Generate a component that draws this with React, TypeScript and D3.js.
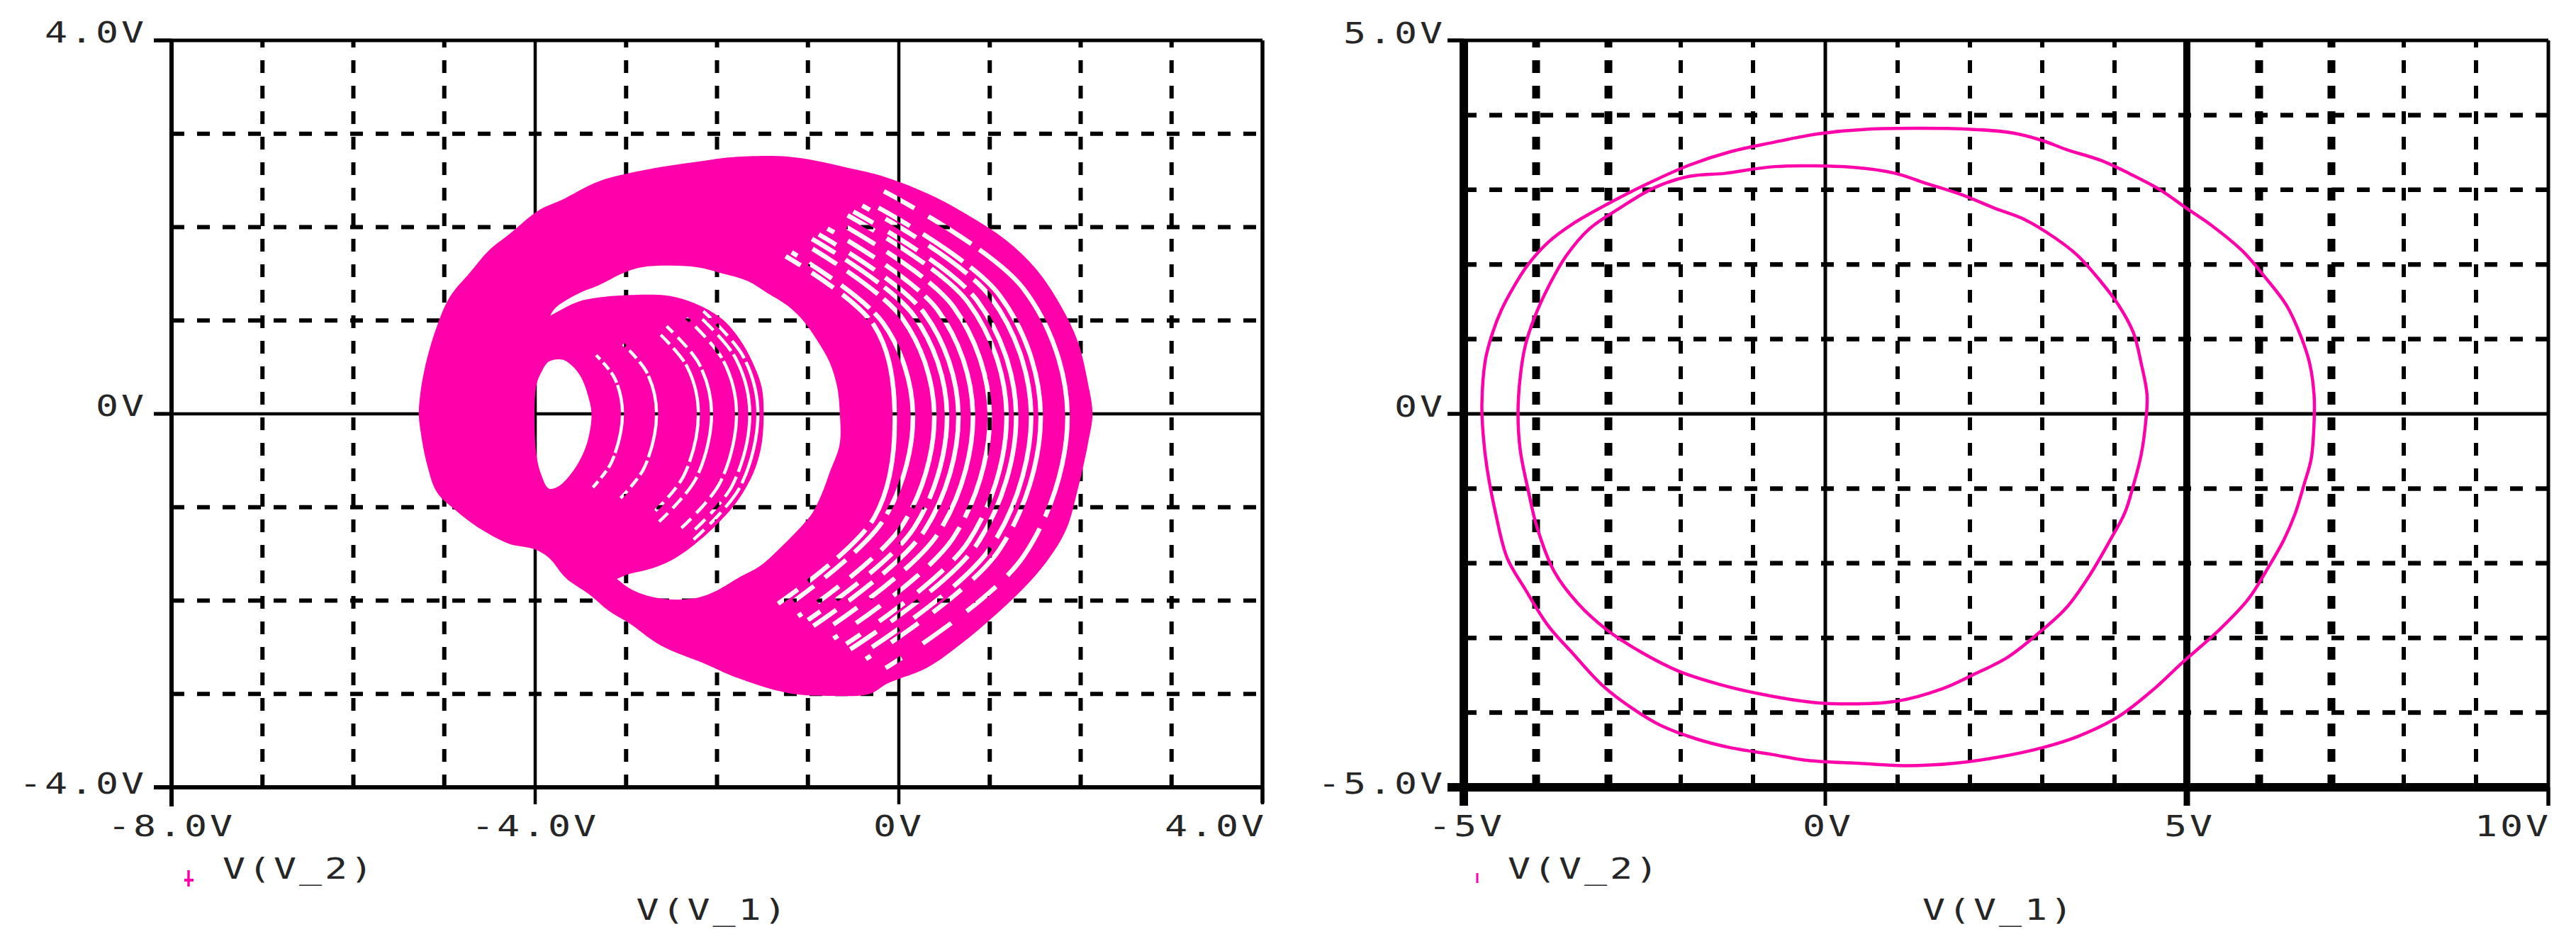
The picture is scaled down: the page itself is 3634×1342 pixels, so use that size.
import React from 'react';
import * as d3 from 'd3';

type Pt = [number, number];

const PINK = '#ff00aa';
const INK = '#000000';
const TEXT = '#262626';

// ---------------- Left chart (V(V_2) vs V(V_1), chaotic attractor) ----------------
const leftXMajor = [-8, -4, 0, 4];
const leftXMajorLabels = ['-8.0V', '-4.0V', '0V', '4.0V'];
const leftYMajor = [-4, 0, 4];
const leftYMajorLabels = ['-4.0V', '0V', '4.0V'];
const leftXMinor = [-7, -6, -5, -3, -2, -1, 1, 2, 3];
const leftYMinor = [-3, -2, -1, 1, 2, 3];
const leftLegend = 'V(V_2)';
const leftXTitle = 'V(V_1)';

// outer envelope of the trajectory
const attractorOuter: Pt[] = [
  [-5.28, 0.0], [-5.26, 0.24], [-5.19, 0.59], [-5.08, 0.94], [-4.94, 1.25], [-4.72, 1.51],
  [-4.51, 1.75], [-4.29, 1.92], [-3.96, 2.18], [-3.71, 2.29], [-3.3, 2.49], [-2.75, 2.62],
  [-2.15, 2.71], [-1.82, 2.75], [-1.17, 2.75], [-0.49, 2.62], [-0.13, 2.53], [0.36, 2.34],
  [0.74, 2.14], [1.18, 1.86], [1.51, 1.55], [1.78, 1.16], [1.97, 0.77], [2.08, 0.33],
  [2.13, 0.0], [2.08, -0.32], [1.97, -0.8], [1.84, -1.24], [1.62, -1.59], [1.35, -1.89],
  [1.02, -2.19], [0.69, -2.46], [0.31, -2.72], [-0.13, -2.89], [-0.32, -3.0], [-0.78, -3.02],
  [-1.22, -2.99], [-1.77, -2.83], [-2.15, -2.67], [-2.62, -2.48], [-2.97, -2.24], [-3.19, -2.11],
  [-3.41, -1.93], [-3.66, -1.76], [-3.85, -1.54], [-4.01, -1.45], [-4.29, -1.39], [-4.59, -1.24],
  [-4.89, -1.02], [-5.08, -0.84], [-5.19, -0.54], [-5.26, -0.19],
];

// large empty region inside the big loops
const attractorBigHole: Pt[] = [
  [-3.795, 1.115], [-3.52, 1.29], [-3.3, 1.377], [-3.03, 1.508], [-2.81, 1.573], [-2.24, 1.573],
  [-1.96, 1.508], [-1.66, 1.421], [-1.44, 1.29], [-1.225, 1.159], [-1.06, 1.007], [-0.9, 0.789],
  [-0.76, 0.549], [-0.678, 0.288], [-0.65, 0.02], [-0.65, -0.322], [-0.76, -0.627], [-0.842, -0.845],
  [-0.951, -1.063], [-1.061, -1.194], [-1.279, -1.412], [-1.525, -1.629], [-1.771, -1.76],
  [-2.045, -1.913], [-2.264, -1.978], [-2.619, -1.978], [-2.92, -1.891], [-3.084, -1.782],
  [-3.5, -1.4], [-3.85, -0.6], [-3.9, 0.4], [-3.86, 0.95],
];

// outer boundary of the small inner scroll
const attractorSmallOuter: Pt[] = [
  [-3.795, 1.072], [-3.52, 1.203], [-3.3, 1.246], [-3.056, 1.268], [-2.564, 1.268], [-2.318, 1.211],
  [-2.099, 1.116], [-1.908, 0.985], [-1.744, 0.789], [-1.607, 0.549], [-1.509, 0.288], [-1.487, 0.026],
  [-1.509, -0.322], [-1.58, -0.584], [-1.689, -0.802], [-1.826, -0.998], [-1.99, -1.172],
  [-2.209, -1.368], [-2.455, -1.542], [-2.701, -1.651], [-2.974, -1.717], [-3.193, -1.782],
  [-3.6, -1.55], [-4.1, -1.1], [-4.35, -0.3], [-4.35, 0.4], [-4.15, 0.85],
];

// small hole at the centre of the inner scroll
const attractorSmallHole: Pt[] = [
  [-3.99, 0.29], [-3.93, 0.45], [-3.85, 0.56], [-3.7, 0.58], [-3.6, 0.52], [-3.5, 0.4], [-3.42, 0.2],
  [-3.38, 0.0], [-3.42, -0.28], [-3.5, -0.48], [-3.62, -0.66], [-3.75, -0.78], [-3.85, -0.8],
  [-3.93, -0.66], [-3.99, -0.41],
];

// visible white separations between bands of the big loops
const attractorBigGaps: Pt[][] = [
  [[-1.245, 1.688], [-0.27, 0.943], [-0.045, 0], [-0.27, -1.11], [-1.328, -2.033]],
  [[-1.179, 1.73], [-0.169, 0.967], [0.155, 0], [-0.169, -1.136], [-1.257, -2.076]],
  [[-1.039, 1.82], [0.042, 1.018], [0.39, 0], [0.042, -1.189], [-1.108, -2.168]],
  [[-0.956, 1.874], [0.168, 1.049], [0.53, 0], [0.168, -1.221], [-1.02, -2.222]],
  [[-0.881, 1.922], [0.282, 1.076], [0.655, 0], [0.282, -1.25], [-0.94, -2.271]],
  [[-0.785, 1.984], [0.428, 1.111], [0.815, 0], [0.428, -1.287], [-0.837, -2.334]],
  [[-0.674, 2.056], [0.597, 1.152], [1.0, 0], [0.597, -1.33], [-0.719, -2.407]],
  [[-0.564, 2.126], [0.763, 1.193], [1.185, 0], [0.763, -1.372], [-0.602, -2.479]],
  [[-0.501, 2.167], [0.859, 1.216], [1.29, 0], [0.859, -1.397], [-0.534, -2.521]],
  [[-0.403, 2.23], [1.008, 1.252], [1.455, 0], [1.008, -1.434], [-0.43, -2.585]],
  [[-0.34, 2.271], [1.103, 1.275], [1.56, 0], [1.103, -1.459], [-0.363, -2.627]],
  [[-0.164, 2.384], [1.371, 1.34], [1.855, 0], [1.371, -1.527], [-0.175, -2.742]],
];

// visible white separations between loops of the small scroll
const attractorSmallGaps: Pt[][] = [
  [[-3.33, 0.628], [-3.126, 0.382], [-3.04, 0], [-3.158, -0.513], [-3.366, -0.788]],
  [[-3.033, 0.747], [-2.77, 0.44], [-2.665, 0], [-2.803, -0.582], [-3.087, -0.928]],
  [[-2.669, 0.893], [-2.332, 0.51], [-2.205, 0], [-2.368, -0.667], [-2.744, -1.101]],
  [[-2.555, 0.938], [-2.195, 0.532], [-2.06, 0], [-2.232, -0.694], [-2.637, -1.155]],
  [[-2.336, 1.026], [-1.933, 0.574], [-1.785, 0], [-1.971, -0.745], [-2.431, -1.259]],
  [[-2.222, 1.071], [-1.796, 0.597], [-1.64, 0], [-1.835, -0.772], [-2.324, -1.313]],
  [[-2.15, 1.1], [-1.709, 0.61], [-1.55, 0], [-1.749, -0.788], [-2.257, -1.347]],
];

// ---------------- Right chart (V(V_2) vs V(V_1), period-2 cycle) ----------------
const rightXMajor = [-5, 0, 5, 10];
const rightXMajorLabels = ['-5V', '0V', '5V', '10V'];
const rightYMajor = [-5, 0, 5];
const rightYMajorLabels = ['-5.0V', '0V', '5.0V'];
const rightXMinor = [-4, -3, -2, -1, 1, 2, 3, 4, 6, 7, 8, 9];
const rightXMinorBold = [-4, -3, 6, 7];
const rightYMinor = [-4, -3, -2, -1, 1, 2, 3, 4];
const rightLegend = 'V(V_2)';
const rightXTitle = 'V(V_1)';

const cycleOuter: Pt[] = [
  [0.56, 3.81], [2.01, 3.81], [2.6, 3.76], [3.0, 3.66], [3.33, 3.54], [3.82, 3.39], [4.22, 3.21],
  [4.63, 3.0], [5.0, 2.75], [5.36, 2.51], [5.77, 2.18], [6.09, 1.82], [6.38, 1.45], [6.58, 1.03],
  [6.7, 0.67], [6.76, 0.25], [6.76, -0.12], [6.72, -0.6], [6.62, -0.95], [6.5, -1.33], [6.34, -1.69],
  [6.13, -2.05], [5.85, -2.48], [5.44, -2.9], [4.95, -3.32], [4.55, -3.68], [4.06, -4.05],
  [3.49, -4.32], [3.0, -4.47], [2.43, -4.59], [1.77, -4.68], [1.13, -4.71], [0.48, -4.68],
  [-0.25, -4.64], [-0.74, -4.56], [-1.31, -4.47], [-1.79, -4.35], [-2.28, -4.17], [-2.69, -3.93],
  [-3.1, -3.62], [-3.5, -3.2], [-3.83, -2.84], [-4.15, -2.35], [-4.4, -1.93], [-4.56, -1.33],
  [-4.68, -0.72], [-4.73, -0.3], [-4.75, 0.12], [-4.7, 0.73], [-4.6, 1.09], [-4.48, 1.39],
  [-4.31, 1.7], [-4.11, 2.0], [-3.83, 2.3], [-3.5, 2.54], [-3.01, 2.81], [-2.44, 3.09],
  [-1.88, 3.33], [-1.31, 3.51], [-0.74, 3.63], [-0.09, 3.75],
];

const cycleInner: Pt[] = [
  [-0.7, 3.31], [0.4, 3.3], [0.97, 3.22], [1.38, 3.09], [1.87, 2.94], [2.35, 2.75], [2.76, 2.6],
  [3.17, 2.36], [3.49, 2.12], [3.82, 1.76], [4.06, 1.45], [4.26, 1.09], [4.37, 0.67], [4.45, 0.25],
  [4.43, -0.12], [4.37, -0.54], [4.26, -0.96], [4.14, -1.33], [3.94, -1.69], [3.65, -2.17],
  [3.33, -2.6], [2.92, -2.96], [2.52, -3.26], [2.03, -3.5], [1.62, -3.68], [0.97, -3.85],
  [0.08, -3.88], [-0.29, -3.85], [-0.9, -3.75], [-1.47, -3.62], [-2.04, -3.44], [-2.53, -3.2],
  [-3.01, -2.9], [-3.42, -2.54], [-3.75, -2.11], [-3.99, -1.51], [-4.11, -1.02], [-4.22, -0.48],
  [-4.25, 0.0], [-4.22, 0.49], [-4.15, 0.91], [-4.03, 1.27], [-3.83, 1.7], [-3.58, 2.12],
  [-3.26, 2.48], [-2.85, 2.75], [-2.36, 3.03], [-1.88, 3.18], [-1.39, 3.22],
];

// ---------------- helpers ----------------
const FONT = '"DejaVu Sans Mono", "Liberation Mono", monospace';
// broken ends, continuous middle (in pathLength = 100 units)
const GAP_DASH = '4 3 6 2.5 8 1.5 47 2 9 2.5 6 3 5.5';

function Label(props: { x: number; y: number; anchor?: string; text: string }) {
  const { x, y, anchor = 'start', text } = props;
  return (
    <text
      transform={`translate(${x},${y}) scale(1.3,1)`}
      textAnchor={anchor}
      fill={TEXT}
      style={{ fontFamily: FONT, fontSize: 41, letterSpacing: 3 }}
    >
      {text}
    </text>
  );
}

export default function App() {
  const W = 3634;
  const H = 1342;

  // left chart scales
  const lx = d3.scaleLinear().domain([-8, 4]).range([242, 1781]);
  const ly = d3.scaleLinear().domain([-4, 4]).range([1111, 57]);
  // right chart scales
  const rx = d3.scaleLinear().domain([-5, 10]).range([2065, 3595]);
  const ry = d3.scaleLinear().domain([-5, 5]).range([1111, 57]);

  const lClosed = d3.line<Pt>().x((d) => lx(d[0])).y((d) => ly(d[1])).curve(d3.curveCatmullRomClosed.alpha(0.5));
  const lOpen = d3.line<Pt>().x((d) => lx(d[0])).y((d) => ly(d[1])).curve(d3.curveCatmullRom.alpha(0.5));
  const rClosed = d3.line<Pt>().x((d) => rx(d[0])).y((d) => ry(d[1])).curve(d3.curveCatmullRomClosed.alpha(0.5));

  const [lx0, lx1] = lx.range();
  const [ly0, ly1] = ly.range();
  const [rx0, rx1] = rx.range();
  const [ry0, ry1] = ry.range();

  return (
    <svg
      width={W}
      height={H}
      viewBox={`0 0 ${W} ${H}`}
      style={{ position: 'absolute', left: 0, top: 0, display: 'block', background: '#fff' }}
    >
      <rect x={0} y={0} width={W} height={H} fill="#fff" />
      <defs>
        <mask id="attractorMask" maskUnits="userSpaceOnUse" x={0} y={0} width={W} height={H}>
          <path d={lClosed(attractorOuter) || ''} fill="#fff" />
          <path d={lClosed(attractorBigHole) || ''} fill="#000" />
          <path d={lClosed(attractorSmallOuter) || ''} fill="#fff" />
          <path d={lClosed(attractorSmallHole) || ''} fill="#000" />
          {attractorBigGaps.map((g, i) => (
            <path
              key={'bg' + i}
              d={lOpen(g) || ''}
              pathLength={100}
              fill="none"
              stroke="#000"
              strokeWidth={6.5}
              strokeDasharray={GAP_DASH}
              strokeDashoffset={(i % 4) * 2.5}
            />
          ))}
          {attractorSmallGaps.map((g, i) => (
            <path
              key={'sg' + i}
              d={lOpen(g) || ''}
              pathLength={100}
              fill="none"
              stroke="#000"
              strokeWidth={4.5}
              strokeDasharray={GAP_DASH}
              strokeDashoffset={(i % 3) * 2}
            />
          ))}
        </mask>
      </defs>

      {/* ================= LEFT CHART ================= */}
      <g>
        {leftXMinor.map((v) => (
          <line key={'lxm' + v} x1={lx(v)} x2={lx(v)} y1={ly0} y2={ly1} stroke={INK} strokeWidth={6} strokeDasharray="18 18" />
        ))}
        {leftYMinor.map((v) => (
          <line key={'lym' + v} x1={lx0} x2={lx1} y1={ly(v)} y2={ly(v)} stroke={INK} strokeWidth={6} strokeDasharray="18 18" />
        ))}
        {leftXMajor.filter((v) => v !== -8 && v !== 4).map((v) => (
          <line key={'lxM' + v} x1={lx(v)} x2={lx(v)} y1={ly0} y2={ly1} stroke={INK} strokeWidth={4.5} />
        ))}
        {leftYMajor.filter((v) => v === 0).map((v) => (
          <line key={'lyM' + v} x1={lx0 - 25} x2={lx1} y1={ly(v)} y2={ly(v)} stroke={INK} strokeWidth={4.5} />
        ))}

        <rect x={lx0 - 20} y={ly1 - 20} width={lx1 - lx0 + 40} height={ly0 - ly1 + 40} fill={PINK} mask="url(#attractorMask)" />

        {/* frame */}
        <line x1={lx0 - 25} x2={lx1} y1={ly1} y2={ly1} stroke={INK} strokeWidth={5} />
        <line x1={lx0 - 25} x2={lx1} y1={ly0} y2={ly0} stroke={INK} strokeWidth={6} />
        <line x1={lx0} x2={lx0} y1={ly1} y2={ly0 + 27} stroke={INK} strokeWidth={6} />
        <line x1={lx1} x2={lx1} y1={ly1} y2={ly0 + 22} stroke={INK} strokeWidth={5.5} />
        {leftXMajor.map((v) => (
          <line key={'lxt' + v} x1={lx(v)} x2={lx(v)} y1={ly0} y2={ly0 + 24} stroke={INK} strokeWidth={4.5} />
        ))}
        {leftYMajor.map((v) => (
          <line key={'lyt' + v} x1={lx0 - 25} x2={lx0} y1={ly(v)} y2={ly(v)} stroke={INK} strokeWidth={5} />
        ))}

        {leftXMajor.map((v, i) => (
          <Label
            key={'lxl' + v}
            x={i === leftXMajor.length - 1 ? lx(v) + 6 : lx(v)}
            y={1180}
            anchor={i === leftXMajor.length - 1 ? 'end' : 'middle'}
            text={leftXMajorLabels[i]}
          />
        ))}
        {leftYMajor.map((v, i) => (
          <Label key={'lyl' + v} x={207} y={ly(v) + (v === -4 ? 9 : 3)} anchor="end" text={leftYMajorLabels[i]} />
        ))}

        {/* legend */}
        <line x1={266} x2={266} y1={1228} y2={1251} stroke={PINK} strokeWidth={3.5} />
        <line x1={260} x2={273} y1={1242} y2={1242} stroke={PINK} strokeWidth={4} />
        <Label x={314} y={1240} text={leftLegend} />
        <Label x={(lx0 + lx1) / 2 - 6} y={1298} anchor="middle" text={leftXTitle} />
      </g>

      {/* ================= RIGHT CHART ================= */}
      <g>
        {rightXMinor.map((v) => (
          <line
            key={'rxm' + v}
            x1={rx(v)}
            x2={rx(v)}
            y1={ry0}
            y2={ry1}
            stroke={INK}
            strokeWidth={rightXMinorBold.includes(v) ? 11 : 6}
            strokeDasharray="18 18"
          />
        ))}
        {rightYMinor.map((v) => (
          <line key={'rym' + v} x1={rx0} x2={rx1} y1={ry(v)} y2={ry(v)} stroke={INK} strokeWidth={6.5} strokeDasharray="18 18" />
        ))}
        <line x1={rx(0)} x2={rx(0)} y1={ry0} y2={ry1} stroke={INK} strokeWidth={5} />
        <line x1={rx(5)} x2={rx(5)} y1={ry0} y2={ry1} stroke={INK} strokeWidth={10} />
        <line x1={rx0 - 23} x2={rx1} y1={ry(0)} y2={ry(0)} stroke={INK} strokeWidth={5} />

        <path d={rClosed(cycleOuter) || ''} fill="none" stroke={PINK} strokeWidth={4.5} />
        <path d={rClosed(cycleInner) || ''} fill="none" stroke={PINK} strokeWidth={4.5} />

        {/* frame */}
        <line x1={rx0 - 23} x2={rx1} y1={ry1} y2={ry1} stroke={INK} strokeWidth={5} />
        <line x1={rx0 - 23} x2={rx1 + 2} y1={ry0} y2={ry0} stroke={INK} strokeWidth={12} />
        <line x1={rx0} x2={rx0} y1={ry1 - 2} y2={ry0 + 26} stroke={INK} strokeWidth={12} />
        <line x1={rx1} x2={rx1} y1={ry1} y2={ry0 + 26} stroke={INK} strokeWidth={5} />
        {rightXMajor.map((v) => (
          <line key={'rxt' + v} x1={rx(v)} x2={rx(v)} y1={ry0} y2={ry0 + 26} stroke={INK} strokeWidth={v === 5 ? 9 : 5} />
        ))}
        {rightYMajor.map((v) => (
          <line key={'ryt' + v} x1={rx0 - 23} x2={rx0} y1={ry(v)} y2={ry(v)} stroke={INK} strokeWidth={5} />
        ))}

        {rightXMajor.map((v, i) => (
          <Label
            key={'rxl' + v}
            x={rx(v) + 4}
            y={1180}
            anchor={i === rightXMajor.length - 1 ? 'end' : 'middle'}
            text={rightXMajorLabels[i]}
          />
        ))}
        {rightYMajor.map((v, i) => (
          <Label key={'ryl' + v} x={2039} y={ry(v) + (v === -5 ? 9 : 4)} anchor="end" text={rightYMajorLabels[i]} />
        ))}

        {/* legend */}
        <line x1={2084} x2={2084} y1={1232} y2={1246} stroke={PINK} strokeWidth={3} />
        <Label x={2127} y={1240} text={rightLegend} />
        <Label x={(rx0 + rx1) / 2 - 10} y={1298} anchor="middle" text={rightXTitle} />
      </g>
    </svg>
  );
}
